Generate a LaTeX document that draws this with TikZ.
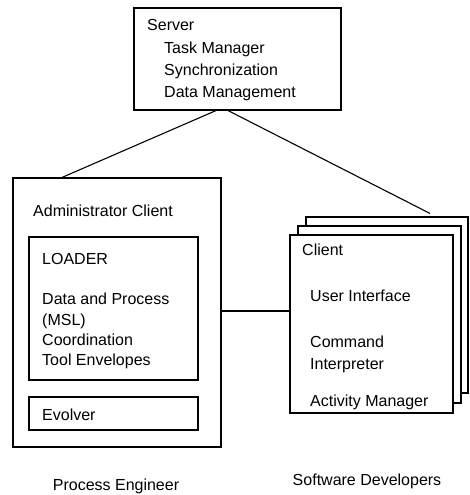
\documentclass[tikz,border=0pt]{standalone}
\usepackage{fontspec}
\setmainfont{Liberation Sans}
\begin{document}
\begin{tikzpicture}[x=1pt,y=-1pt,
  box/.style={draw=black, line width=1.1pt, fill=white, inner sep=0pt},
  txt/.style={anchor=base west, inner sep=0pt, font=\fontsize{16}{18}\selectfont},
  lbl/.style={anchor=base, inner sep=0pt, font=\fontsize{16}{18}\selectfont},
  wire/.style={draw=black, line width=1.1pt}]
\useasboundingbox (0,0) rectangle (470,495);

% server
\node[box, minimum width=207pt, minimum height=102pt] (server) at (237.5,59) {};
\node[txt] (srv) at (147,31) {Server};
\node[txt] (tm) at (164,53) {Task Manager};
\node[txt] (sync) at (164,75) {Synchronization};
\node[txt] (dm) at (164,97) {Data Management};

% administrator client
\node[box, minimum width=208pt, minimum height=269pt] (admin) at (117,312.5) {};
\node[txt] (admt) at (33,216) {Administrator Client};
\node[box, minimum width=169pt, minimum height=143pt] (loader) at (113.5,308.5) {};
\node[txt] (ldt) at (42,264) {LOADER};
\node[txt] (dp) at (42,304) {Data and Process};
\node[txt] (msl) at (42,325) {(MSL)};
\node[txt] (coord) at (42,345) {Coordination};
\node[txt] (te) at (42,365) {Tool Envelopes};
\node[box, minimum width=169pt, minimum height=33pt] (evolver) at (113.5,413.5) {};
\node[txt] (evt) at (42,420) {Evolver};

% stacked client sheets
\node[box, minimum width=162pt, minimum height=176pt] (back) at (387,305) {};
\node[box, minimum width=163pt, minimum height=177pt] (middle) at (379.5,314.5) {};
\node[box, minimum width=163pt, minimum height=178pt] (front) at (371.5,324) {};
\node[txt] (clt) at (302,255) {Client};
\node[txt] (ui) at (310,301) {User Interface};
\node[txt] (cmd) at (310,347) {Command};
\node[txt] (interp) at (310,369) {Interpreter};
\node[txt] (am) at (310,406) {Activity Manager};

% roles
\node[lbl] (pe) at (116,490) {Process Engineer};
\node[lbl] (sd) at (367,485) {Software Developers};

% connections
\draw[wire] ([xshift=-21.5pt]server.south) -- ([xshift=-55pt]admin.north);
\draw[wire] ([xshift=-9.5pt]server.south) -- ([xshift=43pt,yshift=3pt]back.north);
\draw[wire] ([yshift=1.5pt]admin.east) -- ([yshift=1.5pt]admin.east -| front.west);
\end{tikzpicture}
\end{document}
